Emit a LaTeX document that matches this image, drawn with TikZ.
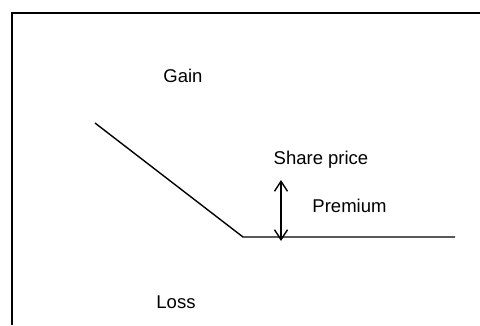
\documentclass[tikz,border=0pt]{standalone}
\usepackage{fontspec}
\setmainfont{Liberation Sans}
\usetikzlibrary{positioning,arrows.meta}

\begin{document}
\begin{tikzpicture}[
    x=1pt, y=-1pt,
    label/.style={font=\fontsize{18.5}{20}\selectfont, inner sep=0pt, anchor=base},
    payoff/.style={line width=1.4pt},
    premarrow/.style={{Straight Barb[length=10pt,width=13pt]}-{Straight Barb[length=10pt,width=13pt]}, line width=1.4pt},
    frame/.style={line width=2pt}
]
\useasboundingbox (0,0) rectangle (480,325);

% Frame (open at right and bottom)
\draw[frame] (12,325) -- (12,12.5) -- (480,12.5);

% Payoff line
\coordinate (start) at (95,123);
\coordinate (strike) at (243,237);
\coordinate (stop) at (455,237);
\draw[payoff] (start) -- (strike) -- (stop);

% Premium arrow
\coordinate (premtop) at (281,180);
\coordinate (prembot) at (281,241);
\draw[premarrow] (premtop) -- (prembot);

% Labels
\node[label] (gain) at (183,82) {Gain};
\node[label] (share) at (321,164) {Share price};
\node[label] (premium) at (349.5,212) {Premium};
\node[label] (loss) at (176,308) {Loss};

\end{tikzpicture}
\end{document}
